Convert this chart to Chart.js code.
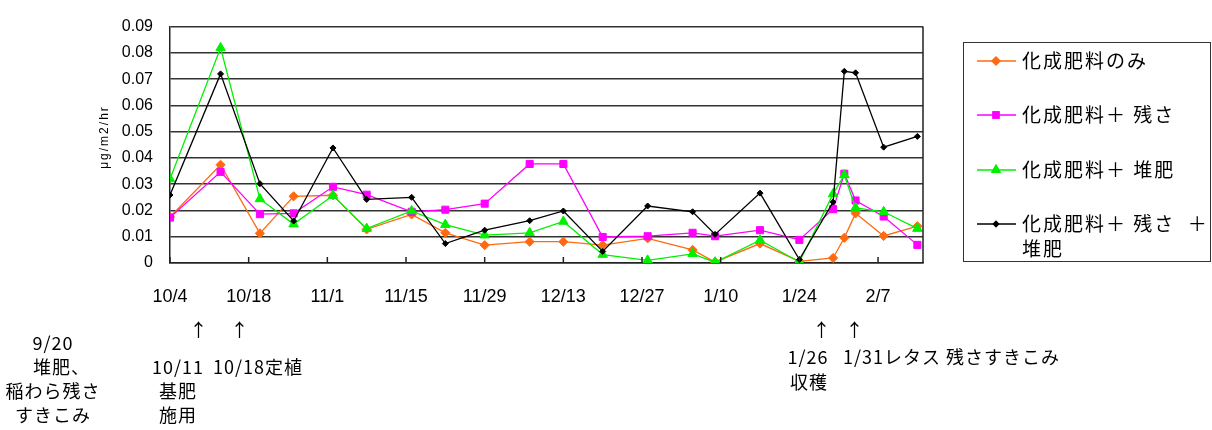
<!DOCTYPE html>
<html>
<head>
<meta charset="utf-8">
<script src="https://cdn.jsdelivr.net/npm/chart.js@4.4.1/dist/chart.umd.min.js"></script>
<style>
  html, body { margin: 0; padding: 0; background: #fff; }
  #wrap { position: relative; width: 1212px; height: 430px; }
</style>
</head>
<body>
<div id="wrap"><canvas id="FluxChart" width="1212" height="430"></canvas></div>
<script>
// sampling dates (M/D), Oct -> Feb
var sampleDates = ['10/4','10/13','10/20','10/26','11/2','11/8','11/16','11/22','11/29','12/7','12/13',
                   '12/20','12/28','1/5','1/9','1/17','1/24','1/30','2/1','2/3','2/8','2/14'];
var axisStart = '10/4';
var axisEnd = '2/15';
var xTickDates = ['10/4','10/18','11/1','11/15','11/29','12/13','12/27','1/10','1/24','2/7'];
var yTicks = [0, 0.01, 0.02, 0.03, 0.04, 0.05, 0.06, 0.07, 0.08, 0.09];

var seriesNames = [['化成肥料のみ'], ['化成肥料＋ 残さ'], ['化成肥料＋ 堆肥'], ['化成肥料＋ 残さ  ＋', '堆肥']];
var fertOnly    = [0.0175,0.0374,0.0113,0.0254,0.0258,0.0128,0.0185,0.0115,0.0068,0.0081,0.0081,
                   0.0068,0.0094,0.0050,0.0004,0.0074,0.0006,0.0019,0.0096,0.0189,0.0103,0.0140];
var fertResidue = [0.0173,0.0347,0.0186,0.0189,0.0290,0.0260,0.0195,0.0203,0.0226,0.0377,0.0377,
                   0.0099,0.0102,0.0115,0.0102,0.0125,0.0088,0.0205,0.0340,0.0238,0.0177,0.0069];
var fertCompost = [0.0320,0.0819,0.0244,0.0148,0.0257,0.0131,0.0198,0.0146,0.0106,0.0115,0.0158,
                   0.0032,0.0010,0.0035,0.0003,0.0087,0.0004,0.0263,0.0335,0.0210,0.0195,0.0131];
var fertBoth    = [0.0259,0.0720,0.0302,0.0160,0.0438,0.0242,0.0250,0.0074,0.0125,0.0161,0.0198,
                   0.0044,0.0217,0.0195,0.0109,0.0266,0.0013,0.0232,0.0730,0.0724,0.0441,0.0482];

var yTitle = 'μg/m2/hr';
var notes = [
  {text:'9/20', x:53, y:343, align:'center'},
  {text:'堆肥、', x:33, y:367, align:'left'},
  {text:'稲わら残さ', x:53, y:391, align:'center'},
  {text:'すきこみ', x:53, y:415, align:'center'},
  {text:'↑', x:199, y:330, align:'center'},
  {text:'↑', x:240, y:330, align:'center'},
  {text:'10/11', x:178, y:367, align:'center'},
  {text:'10/18定植', x:213, y:367, align:'left'},
  {text:'基肥', x:178, y:391, align:'center'},
  {text:'施用', x:178, y:415, align:'center'},
  {text:'↑', x:822, y:330, align:'center'},
  {text:'↑', x:855, y:330, align:'center'},
  {text:'1/26', x:808, y:357, align:'center'},
  {text:'1/31レタス 残さすきこみ', x:843, y:357, align:'left'},
  {text:'収穫', x:809, y:382, align:'center'}
];

function dayNum(md){
  var p = md.split('/');
  var m = +p[0], d = +p[1];
  var y = m >= 9 ? 2003 : 2004;
  var s = axisStart.split('/');
  return Math.round((Date.UTC(y, m - 1, d) - Date.UTC(2003, +s[0] - 1, +s[1])) / 86400000);
}

var styles = [
  {color:'#ff6a10', point:'rectRot', r:4.6},
  {color:'#ff00ff', point:'rect', r:5},
  {color:'#00f000', point:'triangle', r:5.5},
  {color:'#000000', point:'rectRot', r:3}
];
var allSeries = [fertOnly, fertResidue, fertCompost, fertBoth];

var datasets = allSeries.map(function(vals, i){
  return {
    label: seriesNames[i].join(''),
    data: sampleDates.map(function(d, j){ return {x: dayNum(d), y: vals[j]}; }),
    borderColor: styles[i].color,
    backgroundColor: styles[i].color,
    borderWidth: 1.3,
    pointStyle: styles[i].point,
    pointRadius: styles[i].r,
    pointBorderWidth: 1,
    tension: 0,
    order: 4 - i
  };
});

var jpFont = '"Noto Sans CJK JP", sans-serif';

var decorPlugin = {
  id: 'decor',
  afterDraw: function(chart){
    var ctx = chart.ctx, area = chart.chartArea, xs = chart.scales.x;
    ctx.save();
    // right frame + inward x ticks
    ctx.strokeStyle = '#222';
    ctx.lineWidth = 1.5;
    ctx.beginPath();
    ctx.moveTo(area.right, area.top);
    ctx.lineTo(area.right, area.bottom);
    xs.ticks.forEach(function(t){
      var px = xs.getPixelForValue(t.value);
      ctx.moveTo(px, area.bottom);
      ctx.lineTo(px, area.bottom - 6);
    });
    ctx.stroke();

    // y title
    ctx.save();
    ctx.translate(105, 137);
    ctx.rotate(-Math.PI / 2);
    ctx.font = '12px "Liberation Sans", sans-serif';
    ctx.letterSpacing = '2px';
    ctx.fillStyle = '#000';
    ctx.textAlign = 'center';
    ctx.textBaseline = 'middle';
    ctx.fillText(yTitle, 0, 0);
    ctx.restore();

    // legend
    ctx.strokeStyle = '#333';
    ctx.lineWidth = 1;
    ctx.strokeRect(963.5, 42.5, 247, 219);
    var rows = [61, 115, 170, 224];
    ctx.font = '19px ' + jpFont;
    ctx.letterSpacing = '2px';
    ctx.textBaseline = 'middle';
    ctx.textAlign = 'left';
    chart.data.datasets.forEach(function(ds, i){
      var y = rows[i];
      ctx.strokeStyle = ds.borderColor;
      ctx.lineWidth = 1.3;
      ctx.beginPath();
      ctx.moveTo(977, y);
      ctx.lineTo(1016, y);
      ctx.stroke();
      ctx.fillStyle = ds.backgroundColor;
      Chart.helpers.drawPoint(ctx, {pointStyle: ds.pointStyle, radius: ds.pointRadius * 0.85, rotation: 0, borderWidth: 1}, 996, y);
      ctx.fill();
      ctx.stroke();
      ctx.fillStyle = '#000';
      seriesNames[i].forEach(function(line, k){
        ctx.fillText(line, 1022, y + k * 25);
      });
    });

    // notes under the axis
    ctx.font = '18px ' + jpFont;
    ctx.letterSpacing = '1px';
    ctx.fillStyle = '#000';
    notes.forEach(function(n){
      ctx.textAlign = n.align;
      ctx.fillText(n.text, n.x, n.y);
    });
    ctx.restore();
  }
};

new Chart(document.getElementById('FluxChart').getContext('2d'), {
  type: 'line',
  data: { datasets: datasets },
  options: {
    responsive: false,
    animation: false,
    layout: { padding: { left: 0, right: 289, top: 19, bottom: 0 } },
    plugins: { legend: { display: false }, tooltip: { enabled: false } },
    scales: {
      x: {
        type: 'linear',
        min: 0,
        max: dayNum(axisEnd),
        afterBuildTicks: function(sc){ sc.ticks = xTickDates.map(function(d){ return {value: dayNum(d)}; }); },
        afterFit: function(sc){ sc.height = 167; },
        ticks: {
          autoSkip: false, maxRotation: 0, padding: 23, color: '#000',
          font: { family: '"Liberation Sans", Arial, sans-serif', size: 18 },
          callback: function(v, i){ return xTickDates[i]; }
        },
        grid: { display: false, drawTicks: false },
        border: { color: '#222', width: 1.5 }
      },
      y: {
        min: 0,
        max: 0.09,
        afterBuildTicks: function(sc){ sc.ticks = yTicks.map(function(v){ return {value: v}; }); },
        afterFit: function(sc){ sc.width = 170; },
        ticks: {
          padding: 17, color: '#000',
          font: { family: '"Liberation Sans Narrow", "Liberation Sans", Arial, sans-serif', size: 16 },
          callback: function(v){ return v === 0 ? '0' : v.toFixed(2); }
        },
        grid: { color: '#333', lineWidth: 1.5, drawTicks: false },
        border: { color: '#222', width: 1.5 }
      }
    }
  },
  plugins: [decorPlugin]
});
</script>
</body>
</html>
